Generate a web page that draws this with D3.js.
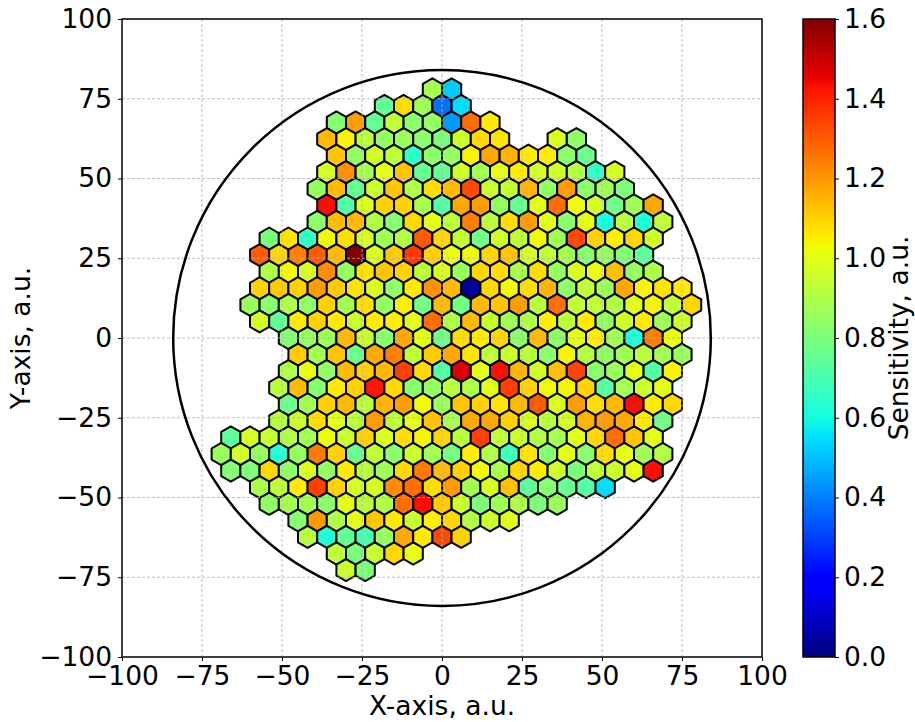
<!DOCTYPE html>
<html>
<head>
<meta charset="utf-8">
<script src="https://cdn.jsdelivr.net/npm/d3@7"></script>
<style>
  html, body { margin: 0; padding: 0; background: #fff; }
  svg { display: block; }
  text { font-family: "DejaVu Sans", sans-serif; fill: #000; }
</style>
</head>
<body>
<svg id="chart" width="915" height="722"></svg>
<script>
const xTicks = [-100, -75, -50, -25, 0, 25, 50, 75, 100];
const yTicks = [-100, -75, -50, -25, 0, 25, 50, 75, 100];
const colorTicks = [0, 0.2, 0.4, 0.6, 0.8, 1.0, 1.2, 1.4, 1.6];
const detectorRadius = 84;
const cellPitch = 6;

// one hexagon row per entry: row number, x of the first cell, then sensitivities (null = no cell)
const rowNumbers = [15, 14, 13, 12, 11, 10, 9, 8, 7, 6, 5, 4, 3, 2, 1, 0, -1, -2, -3, -4, -5, -6, -7, -8, -9, -10, -11, -12, -13, -14];
const rowFirstX = [-3, -18, -33, -36, -33, -36, -39, -36, -39, -54, -57, -54, -57, -60, -57, -48, -45, -48, -51, -48, -51, -66, -69, -66, -57, -54, -45, -42, -33, -30];
const rowValues = [
  [.88, .52],
  [.75, 1.08, .87, .38, .55],
  [.82, 1.19, .75, .93, .83, .85, .44, 1.27, 1.06],
  [1.14, 1.04, .92, .85, .86, .83, .8, .96, 1.09, 1.07, null, null, .98, .84],
  [1.12, .85, .96, .93, .65, .83, .85, 1.04, 1.17, 1.15, 1.06, 1.06, .83, .77],
  [.97, 1.21, .88, 1.0, 1.12, .76, .76, .96, .88, 1.0, 1.05, .97, .96, .91, .66, .97],
  [.85, 1.14, .75, .95, 1.12, .9, 1.08, 1.14, 1.33, .95, .94, 1.15, .85, 1.19, .83, .87, .81],
  [1.43, .72, .98, 1.1, 1.1, .89, .72, 1.17, 1.19, .85, .76, 1.0, 1.27, 1.03, .97, .78, .87, 1.17],
  [.83, 1.14, 1.14, .9, .82, 1.09, 1.0, .93, 1.24, .92, 1.08, 1.19, 1.0, .83, 1.0, .6, .92, .62, .93],
  [.8, 1.07, .66, 1.03, 1.08, .97, .87, .9, 1.3, 1.09, .94, .78, .96, .93, 1.03, .87, 1.33, 1.1, 1.05, 1.09, .96],
  [1.3, 1.09, 1.24, 1.3, 1.14, 1.6, .98, 1.11, 1.36, 1.1, 1.02, 1.02, 1.09, 1.12, .97, .93, .88, .82, .85, .82, .74],
  [.9, 1.03, .98, 1.22, .85, 1.07, 1.12, 1.1, .93, .98, .86, 1.09, 1.08, .89, 1.08, .85, .98, 1.02, 1.13, .85, .9],
  [1.1, 1.11, 1.1, 1.19, 1.11, 1.07, .98, .84, 1.06, 1.21, 1.14, .03, 1.09, 1.03, 1.08, 1.15, .84, .93, .87, 1.17, 1.04, 1.07, 1.06],
  [.86, .83, .9, .84, 1.1, .88, 1.08, .85, 1.05, .79, 1.14, .78, 1.14, 1.12, 1.19, .92, 1.27, .94, .93, .9, 1.0, 1.04, .93, 1.09],
  [.97, .75, 1.06, 1.1, 1.06, .95, 1.06, 1.05, 1.0, 1.27, .9, 1.14, .95, .87, .9, 1.05, .93, 1.06, .85, .96, 1.06, .87, .96],
  [.82, .85, .87, 1.14, .95, .83, 1.17, 1.0, .78, 1.08, 1.06, 1.09, .83, 1.14, .84, 1.0, 1.05, .88, .62, 1.24, 1.02],
  [1.11, .88, 1.12, .77, 1.17, 1.24, .93, 1.11, 1.17, 1.07, .93, .95, .92, .83, 1.04, .91, .84, .87, .92, .88, .86],
  [.9, 1.0, .85, 1.14, 1.1, 1.14, 1.35, 1.09, .72, 1.47, 1.0, 1.43, 1.15, .96, 1.13, 1.34, .83, .86, 1.0, .72, 1.04],
  [.92, 1.14, .82, 1.06, 1.1, 1.42, 1.09, .83, .85, .92, .9, 1.0, 1.35, 1.1, 1.03, 1.04, 1.1, .73, .88, .95, 1.0],
  [.77, .87, 1.1, 1.14, .92, 1.15, 1.19, 1.03, .86, 1.12, 1.1, 1.07, 1.14, 1.3, .98, 1.19, 1.08, 1.14, 1.43, 1.05, 1.09],
  [.92, .95, 1.08, 1.0, .92, 1.19, .93, 1.0, 1.12, .88, 1.17, 1.17, 1.1, .98, .92, .97, 1.15, 1.19, 1.17, 1.06, .78],
  [.74, .97, .95, .9, .88, 1.02, .95, 1.1, .98, 1.08, 1.04, 1.09, .92, 1.35, .93, .95, .9, .88, 1.0, 1.09, 1.27, 1.12, 1.0],
  [.86, .97, .85, .63, .85, 1.25, 1.1, .76, .93, .83, .95, .88, .79, 1.05, .9, .68, 1.07, .82, 1.0, .83, 1.08, 1.0, .87, .91],
  [.82, .81, 1.09, .84, .98, .85, 1.06, .92, .87, 1.09, 1.25, 1.14, 1.1, 1.03, .89, 1.09, 1.05, .96, .8, .93, .95, 1.0, 1.43],
  [.89, .93, 1.06, 1.35, 1.1, .97, .97, 1.22, 1.27, 1.08, 1.19, .88, .98, 1.13, .74, .82, .76, .72, .55],
  [.84, .88, .88, .83, 1.0, .92, .9, 1.27, 1.43, 1.11, .95, .8, .87, .9, .8, .86],
  [.82, 1.2, .9, 1.0, 1.12, 1.06, .95, 1.05, 1.09, .91, .96, 1.0],
  [.92, .62, .75, .7, .85, 1.17, 1.06, 1.33, 1.1],
  [.93, .8, .95, 1.09, 1.02],
  [.95, .8]
];

const svg = d3.select('#chart');
const fontSize = 26.5;

const x = d3.scaleLinear().domain([-100, 100]).range([122, 762]);
const y = d3.scaleLinear().domain([-100, 100]).range([657, 19]);
const colorScale = d3.scaleLinear().domain([0, 1.6]).range([657, 19]);

// matplotlib jet, channel by channel
const red = d3.scaleLinear().domain([0, .35, .66, .89, 1]).range([0, 0, 1, 1, .5]);
const green = d3.scaleLinear().domain([0, .125, .375, .64, .91, 1]).range([0, 0, 1, 1, 0, 0]);
const blue = d3.scaleLinear().domain([0, .11, .34, .65, 1]).range([.5, 1, 1, 0, 0]);
function jet(value) {
  const t = value / 1.6;
  return d3.rgb(red(t) * 255, green(t) * 255, blue(t) * 255).formatHex();
}

function tickFormat(d) {
  return String(d).replace('-', '\u2212');
}

// cells
const rowHeight = cellPitch * Math.sqrt(3) / 2;
const hexRadius = cellPitch / Math.sqrt(3);
const cells = [];
rowNumbers.forEach((row, i) => {
  rowValues[i].forEach((value, j) => {
    if (value !== null) {
      cells.push({cx: rowFirstX[i] + j * cellPitch, cy: row * rowHeight, value: value});
    }
  });
});

const hexLine = d3.line().x(d => x(d[0])).y(d => y(d[1])).curve(d3.curveLinearClosed);

svg.append('g')
  .selectAll('path')
  .data(cells)
  .enter()
  .append('path')
  .attr('d', d => hexLine(d3.range(6).map(k => {
    const angle = Math.PI / 6 + k * Math.PI / 3;
    return [d.cx + hexRadius * Math.cos(angle), d.cy + hexRadius * Math.sin(angle)];
  })))
  .attr('fill', d => jet(d.value))
  .attr('stroke', '#000')
  .attr('stroke-width', 2)
  .attr('stroke-linejoin', 'round');

// grid sits above the cells, faint
const grid = svg.append('g')
  .attr('stroke', '#b0b0b0')
  .attr('stroke-width', 1)
  .attr('stroke-dasharray', '3,2')
  .attr('opacity', 0.8);

grid.selectAll('.gx')
  .data(xTicks.slice(1, -1))
  .enter()
  .append('line')
  .attr('x1', d => x(d)).attr('x2', d => x(d))
  .attr('y1', y(-100)).attr('y2', y(100));

grid.selectAll('.gy')
  .data(yTicks.slice(1, -1))
  .enter()
  .append('line')
  .attr('y1', d => y(d)).attr('y2', d => y(d))
  .attr('x1', x(-100)).attr('x2', x(100));

// detector outline
svg.append('ellipse')
  .attr('cx', x(0))
  .attr('cy', y(0))
  .attr('rx', x(detectorRadius) - x(0))
  .attr('ry', y(0) - y(detectorRadius))
  .attr('fill', 'none')
  .attr('stroke', '#000')
  .attr('stroke-width', 2.5);

// frame and axes
svg.append('rect')
  .attr('x', x(-100))
  .attr('y', y(100))
  .attr('width', x(100) - x(-100))
  .attr('height', y(-100) - y(100))
  .attr('fill', 'none')
  .attr('stroke', '#000')
  .attr('stroke-width', 1.5);

function styleAxis(g) {
  g.select('.domain').remove();
  g.selectAll('.tick line').attr('stroke', '#000').attr('stroke-width', 1);
  g.selectAll('.tick text')
    .style('font-size', fontSize + 'px')
    .style('font-family', '"DejaVu Sans", sans-serif');
}

svg.append('g')
  .attr('transform', `translate(0,${y(-100)})`)
  .call(d3.axisBottom(x).tickValues(xTicks).tickFormat(tickFormat).tickSize(4).tickPadding(5))
  .call(styleAxis);

svg.append('g')
  .attr('transform', `translate(${x(-100)},0)`)
  .call(d3.axisLeft(y).tickValues(yTicks).tickFormat(tickFormat).tickSize(4).tickPadding(6))
  .call(styleAxis);

svg.append('text')
  .attr('x', x(0))
  .attr('y', 715)
  .attr('text-anchor', 'middle')
  .style('font-size', fontSize + 'px')
  .text('X-axis, a.u.');

svg.append('text')
  .attr('transform', `translate(30,${y(0)}) rotate(-90)`)
  .attr('text-anchor', 'middle')
  .style('font-size', fontSize + 'px')
  .text('Y-axis, a.u.');

// colorbar
const barLeft = 803;
const barWidth = 32;
const barSteps = d3.range(256);

const gradient = svg.append('defs')
  .append('linearGradient')
  .attr('id', 'jetGradient')
  .attr('x1', 0).attr('x2', 0)
  .attr('y1', 1).attr('y2', 0);

gradient.selectAll('stop')
  .data(barSteps)
  .enter()
  .append('stop')
  .attr('offset', d => d / 255)
  .attr('stop-color', d => jet(d / 255 * 1.6));

svg.append('rect')
  .attr('x', barLeft)
  .attr('y', colorScale(1.6))
  .attr('width', barWidth)
  .attr('height', colorScale(0) - colorScale(1.6))
  .attr('fill', 'url(#jetGradient)')
  .attr('stroke', '#000')
  .attr('stroke-width', 1.5);

svg.append('g')
  .attr('transform', `translate(${barLeft + barWidth},0)`)
  .call(d3.axisRight(colorScale).tickValues(colorTicks).tickFormat(d3.format('.1f')).tickSize(4).tickPadding(5))
  .call(styleAxis);

svg.append('text')
  .attr('transform', `translate(908,${y(0)}) rotate(-90)`)
  .attr('text-anchor', 'middle')
  .style('font-size', fontSize + 'px')
  .text('Sensitivity, a.u.');
</script>
</body>
</html>
